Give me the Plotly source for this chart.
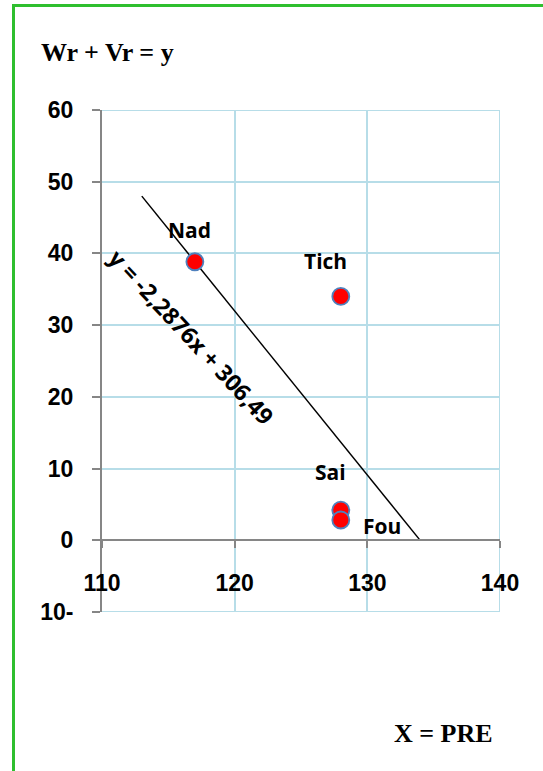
import numpy as np
import plotly.graph_objects as go

# Observations: PRE on x, Wr + Vr on y
names = ["Nad", "Tich", "Sai", "Fou"]
pre = [117, 128, 128, 128]
wr_vr = [38.84, 34.0, 4.2, 2.83]

x_ticks = [110, 120, 130, 140]
y_ticks = [-10, 0, 10, 20, 30, 40, 50, 60]
y_tick_text = ["10-", "0", "10", "20", "30", "40", "50", "60"]

# Linear trendline, extended backward/forward along x
trend_backward = 4
trend_forward = 6

W, H = 543, 771
M_L, M_R, M_T, M_B = 102, 43, 110, 159
PW, PH = W - M_L - M_R, H - M_T - M_B


def px(x):
    return (x - M_L) / PW


def py(y):
    return (H - M_B - y) / PH


slope, intercept = np.polyfit(pre, wr_vr, 1)
tx = np.array([min(pre) - trend_backward, max(pre) + trend_forward])
ty = slope * tx + intercept
eq_text = f"y = {slope:.4f}x + {intercept:.2f}".replace(".", ",")

GRID = "#b7dde8"
AXIS = "#868686"
TICKFONT = dict(family="Liberation Sans", size=23, color="black", weight="bold")
LABELFONT = dict(family="Open Sans", size=21, color="black", weight="bold")
SERIF = dict(family="Liberation Serif", size=26, color="black", weight="bold")

x_min, x_max = x_ticks[0], x_ticks[-1]
y_min, y_max = y_ticks[0], y_ticks[-1]

fig = go.Figure()

# outer gridlines on the plot edges (top, bottom, right)
for yv in (y_min, y_max):
    fig.add_shape(type="line", xref="x", yref="y", x0=x_min, x1=x_max, y0=yv, y1=yv,
                  line=dict(color=GRID, width=2), layer="below")
fig.add_shape(type="line", xref="x", yref="y", x0=x_max, x1=x_max, y0=y_min, y1=y_max,
              line=dict(color=GRID, width=2), layer="below")

fig.add_trace(go.Scatter(
    x=tx, y=ty, mode="lines",
    line=dict(color="black", width=1.5),
    hoverinfo="skip", showlegend=False,
))
fig.add_trace(go.Scatter(
    x=pre, y=wr_vr, mode="markers", text=names,
    marker=dict(color="#ff0000", size=17, line=dict(color="#4f81bd", width=1.8)),
    showlegend=False,
))

# point labels: pixel offsets from each marker
label_shift = {"Nad": (-5, 32), "Tich": (-15, 35), "Sai": (-10, 38), "Fou": (41, -6)}
for n, x, y in zip(names, pre, wr_vr):
    dx, dy = label_shift[n]
    fig.add_annotation(x=x, y=y, text=n, showarrow=False, xanchor="center",
                       yanchor="middle", xshift=dx, yshift=dy, font=LABELFONT)

# trendline equation, rotated along the line
fig.add_annotation(x=116.75, y=28.3, text=eq_text, showarrow=False,
                   textangle=47, xanchor="center", yanchor="middle",
                   font=dict(family="Open Sans", size=23, color="black", weight="bold"))

# titles
fig.add_annotation(xref="paper", yref="paper", x=px(39), y=py(52), text="Wr + Vr = y",
                   showarrow=False, xanchor="left", yanchor="middle", font=SERIF)
fig.add_annotation(xref="paper", yref="paper", x=px(443), y=py(733), text="X = PRE",
                   showarrow=False, xanchor="center", yanchor="middle", font=SERIF)

# green frame on the left and top
GREEN = "#2fbf2f"
fig.add_shape(type="line", xref="paper", yref="paper", x0=px(13.5), x1=px(13.5),
              y0=py(H + 20), y1=py(5.5), line=dict(color=GREEN, width=3))
fig.add_shape(type="line", xref="paper", yref="paper", x0=px(12), x1=px(W + 20),
              y0=py(5.5), y1=py(5.5), line=dict(color=GREEN, width=3))

fig.update_layout(
    width=W, height=H,
    margin=dict(l=M_L, r=M_R, t=M_T, b=M_B, pad=0),
    paper_bgcolor="white", plot_bgcolor="white",
    showlegend=False,
    xaxis=dict(
        range=[x_min, x_max], tickvals=x_ticks, anchor="free",
        position=(0 - y_min) / (y_max - y_min),
        showgrid=True, gridcolor=GRID, gridwidth=2,
        showline=True, linecolor=AXIS, linewidth=2,
        ticks="outside", ticklen=7, tickwidth=2, tickcolor=AXIS,
        ticklabelstandoff=15, tickfont=TICKFONT, zeroline=False,
    ),
    yaxis=dict(
        range=[y_min, y_max], tickvals=y_ticks, ticktext=y_tick_text,
        showgrid=True, gridcolor=GRID, gridwidth=2,
        showline=True, linecolor=AXIS, linewidth=2,
        ticks="outside", ticklen=8, tickwidth=2, tickcolor=AXIS,
        ticklabelstandoff=14, tickfont=TICKFONT, zeroline=False,
    ),
)

fig.write_html("out.html")
